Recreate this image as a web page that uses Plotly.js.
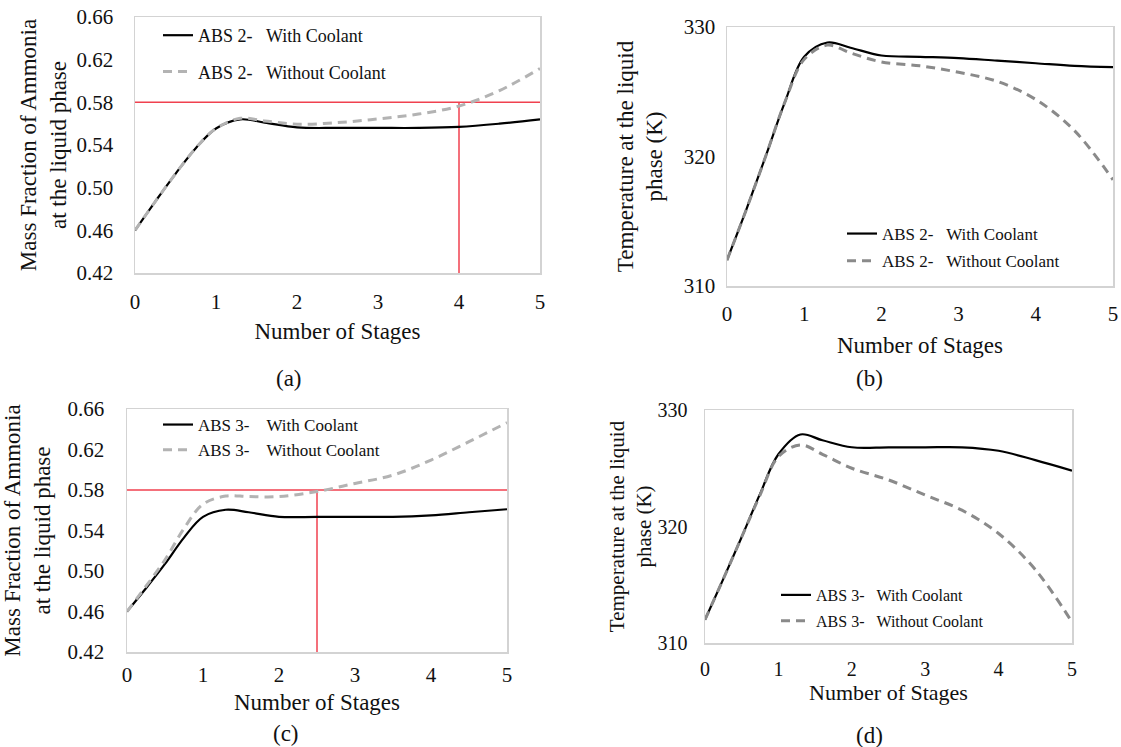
<!DOCTYPE html>
<html>
<head>
<meta charset="utf-8">
<script src="https://cdn.plot.ly/plotly-3.0.1.min.js"></script>
<style>html,body{margin:0;padding:0;background:#fff;}#chart{width:1121px;height:747px;}</style>
</head>
<body>
<div id="chart"></div>
<script>
// ---- data ----
const stages = [0, 0.25, 0.5, 0.75, 1, 1.3, 1.6, 2, 2.5, 3, 3.5, 4, 4.5, 5];

const abs2MassWith    = [0.46, 0.487, 0.513, 0.537, 0.5555, 0.564, 0.561, 0.5565, 0.556, 0.556, 0.556, 0.557, 0.560, 0.564];
const abs2MassWithout = [0.46, 0.487, 0.513, 0.537, 0.5555, 0.565, 0.5625, 0.5595, 0.561, 0.5645, 0.569, 0.5765, 0.591, 0.6117];

const abs2TempWith    = [312, 315.9, 320.0, 324.2, 327.7, 328.8, 328.4, 327.8, 327.7, 327.6, 327.4, 327.2, 327.0, 326.9];
const abs2TempWithout = [312, 315.9, 320.0, 324.2, 327.5, 328.6, 328.0, 327.3, 327.0, 326.5, 325.8, 324.4, 322.0, 318.2];

const abs3MassWith    = [0.46, 0.483, 0.507, 0.533, 0.5535, 0.5605, 0.558, 0.5535, 0.5535, 0.5535, 0.5535, 0.555, 0.558, 0.561];
const abs3MassWithout = [0.46, 0.485, 0.511, 0.542, 0.566, 0.574, 0.5735, 0.5735, 0.5785, 0.5865, 0.5947, 0.6096, 0.6277, 0.6465];

const abs3TempWith    = [312, 315.5, 319.1, 322.8, 326.2, 327.9, 327.4, 326.8, 326.8, 326.8, 326.8, 326.5, 325.7, 324.8];
const abs3TempWithout = [312, 315.5, 319.1, 322.7, 326.0, 327.0, 326.2, 325.0, 324.0, 322.7, 321.4, 319.4, 316.3, 311.8];

// reference lines (red)
const massLimit = 0.58;
const stageRange = [0, 5];
const crossStageA = 4;
const crossStageC = 2.5;
const massAxisMin = 0.42;

const massTicks = [0.42, 0.46, 0.50, 0.54, 0.58, 0.62, 0.66];
const tempTicks = [310, 320, 330];
const stageTicks = [0, 1, 2, 3, 4, 5];

const captions = ['(a)', '(b)', '(c)', '(d)'];

// ---- styling ----
const FONT = 'Liberation Serif';
const W = 1121, H = 747;
const px = v => v / W;
const py = v => 1 - v / H;
const NB = '\u00a0';

function solid() { return {color: '#000000', width: 2.2, shape: 'spline', smoothing: 1}; }
function dashed(c) { return {color: c, width: 3, dash: '9px,6px', shape: 'spline', smoothing: 1}; }

const traces = [];
function pair(xa, ya, yWith, yWithout, label, gap, dashColor, legend) {
  traces.push({x: stages, y: yWith, xaxis: xa, yaxis: ya, type: 'scatter', mode: 'lines',
    name: label + gap + 'With Coolant', line: solid(), legend: legend, legendgroup: legend + 'a', hoverinfo: 'skip'});
  traces.push({x: stages, y: yWithout, xaxis: xa, yaxis: ya, type: 'scatter', mode: 'lines',
    name: label + gap + 'Without Coolant', line: dashed(dashColor), legend: legend, legendgroup: legend + 'b', hoverinfo: 'skip'});
}
function redLines(xa, ya, cross) {
  const red = {color: '#f0414f', width: 1.5};
  traces.push({x: stageRange, y: [massLimit, massLimit], xaxis: xa, yaxis: ya, mode: 'lines', line: red, showlegend: false, hoverinfo: 'skip', cliponaxis: false});
  traces.push({x: [cross, cross], y: [massAxisMin, massLimit], xaxis: xa, yaxis: ya, mode: 'lines', line: red, showlegend: false, hoverinfo: 'skip', cliponaxis: false});
}

redLines('x', 'y', crossStageA);
redLines('x3', 'y3', crossStageC);
pair('x', 'y', abs2MassWith, abs2MassWithout, 'ABS 2-', NB + NB + NB, '#b3b3b3', 'legend');
pair('x2', 'y2', abs2TempWith, abs2TempWithout, 'ABS 2-', NB + NB + NB, '#8a8a8a', 'legend2');
pair('x3', 'y3', abs3MassWith, abs3MassWithout, 'ABS 3-', NB + NB + NB + NB, '#b3b3b3', 'legend3');
pair('x4', 'y4', abs3TempWith, abs3TempWithout, 'ABS 3-', NB + NB + NB, '#8a8a8a', 'legend4');

function xAx(dom, anchor, tickSize, titleSize, standoff, ticklen) {
  return {domain: dom, anchor: anchor, range: [0, 5], tickvals: stageTicks, ticktext: stageTicks.map(String),
    showgrid: false, zeroline: false, showline: true, mirror: true, linecolor: '#d3d3d3', linewidth: 1.5,
    ticks: 'outside', ticklen: ticklen, tickcolor: 'rgba(0,0,0,0)',
    tickfont: {family: FONT, size: tickSize, color: '#111'},
    title: {text: 'Number of Stages', font: {family: FONT, size: titleSize, color: '#111'}, standoff: standoff},
    automargin: false, fixedrange: true};
}
function yAx(dom, anchor, range, tickvals, fmt, tickSize, title, titleSize, standoff, ticklen) {
  return {domain: dom, anchor: anchor, range: range, tickvals: tickvals, ticktext: tickvals.map(fmt),
    showgrid: false, zeroline: false, showline: true, mirror: true, linecolor: '#d3d3d3', linewidth: 1.5,
    ticks: 'outside', ticklen: ticklen, tickcolor: 'rgba(0,0,0,0)',
    tickfont: {family: FONT, size: tickSize, color: '#111'},
    title: {text: title, font: {family: FONT, size: titleSize, color: '#111'}, standoff: standoff},
    automargin: false, fixedrange: true};
}
const f2 = v => v.toFixed(2);
const f0 = v => String(v);

function legendAt(x, y, size, gap) {
  return {x: x, y: y, xanchor: 'left', yanchor: 'top', bgcolor: 'rgba(0,0,0,0)',
    font: {family: FONT, size: size, color: '#111'}, traceorder: 'grouped', tracegroupgap: gap,
    itemwidth: 30};
}
function cap(text, x, y) {
  return {text: text, x: px(x), y: py(y), xref: 'paper', yref: 'paper', xanchor: 'center', yanchor: 'middle',
    showarrow: false, font: {family: FONT, size: 23, color: '#111'}};
}

const layout = {
  width: W, height: H, margin: {l: 0, r: 0, t: 0, b: 0},
  paper_bgcolor: '#ffffff', plot_bgcolor: '#ffffff',
  font: {family: FONT, color: '#111'},
  xaxis:  xAx([px(135), px(540)], 'y', 21, 23, 10, 9),
  yaxis:  yAx([py(273), py(17)], 'x', [0.42, 0.66], massTicks, f2, 21, 'Mass Fraction of Ammonia<br>at the liquid phase', 23, 3, 16),
  xaxis2: xAx([px(727), px(1113)], 'y2', 21, 23, 12, 8),
  yaxis2: yAx([py(286), py(27)], 'x2', [310, 330], tempTicks, f0, 21, 'Temperature at the liquid<br>phase (K)', 23, 14, 6),
  xaxis3: xAx([px(127), px(507)], 'y3', 21, 23, 8, 3),
  yaxis3: yAx([py(652), py(409)], 'x3', [0.42, 0.66], massTicks, f2, 21, 'Mass Fraction of Ammonia<br>at the liquid phase', 23, 12, 17),
  xaxis4: xAx([px(705), px(1072)], 'y4', 20, 22, 6, 7),
  yaxis4: yAx([py(643), py(410)], 'x4', [310, 330], tempTicks, f0, 20, 'Temperature at the liquid<br>phase (K)', 21, 0, 12),
  legend:  legendAt(px(158), py(17), 18, 10),
  legend2: legendAt(px(842), py(216), 17, 2),
  legend3: legendAt(px(158), py(407), 17, 0),
  legend4: legendAt(px(776), py(578), 16, 2),
  showlegend: true,
  annotations: [cap(captions[0], 289, 378), cap(captions[1], 869, 378), cap(captions[2], 286, 733), cap(captions[3], 869, 735)]
};

Plotly.newPlot('chart', traces, layout, {displayModeBar: false, staticPlot: true});
</script>
</body>
</html>
